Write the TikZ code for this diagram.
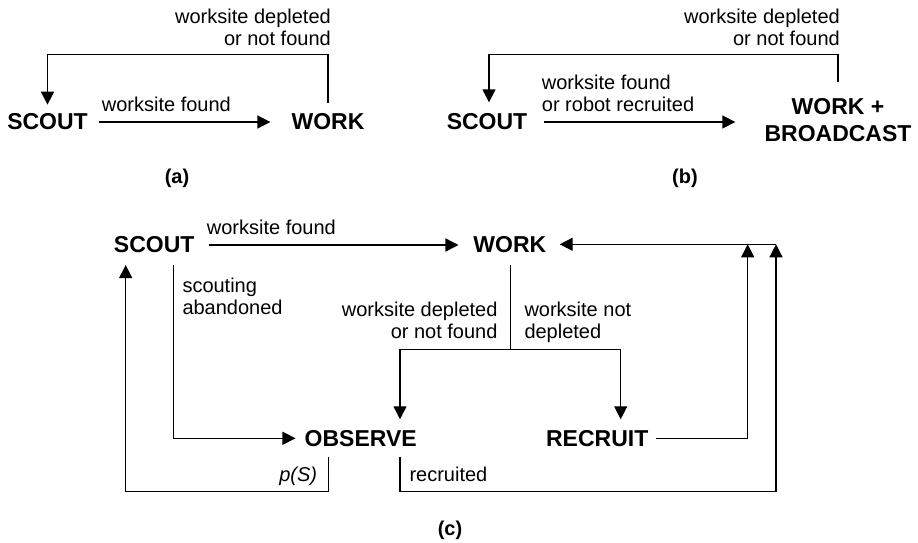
\documentclass[tikz,border=0pt]{standalone}
\usepackage{fontspec}
\setmainfont{Liberation Sans}
\usetikzlibrary{arrows.meta}

\tikzset{
    state/.style = {inner sep=0pt, font=\fontsize{23}{27}\selectfont\bfseries, align=center},
    lbl/.style = {inner sep=0pt, font=\fontsize{20}{22}\selectfont},
    sublabel/.style = {inner sep=0pt, font=\fontsize{20}{22}\selectfont\bfseries},
    arr/.style = {-{Triangle[length=13pt, width=13pt]}, line width=1.4pt},
    ln/.style = {line width=1.4pt}
}

\begin{document}
\begin{tikzpicture}[x=1pt, y=-1pt]
    \useasboundingbox (0,0) rectangle (918,543);

    % (a)
    \node (sa) [state] at (47.5,122) {SCOUT};
    \node (wa) [state] at (328,122) {WORK};
    \coordinate (ta) at (0,54.3);
    \draw [arr, shorten <=11pt, shorten >=21pt] (sa.east) -- (wa.west);
    \node (la1) [lbl, anchor=north west] at (101.7,97) {worksite found};
    \draw [arr] ([yshift=11pt]wa.north) -- (wa.north |- ta) -- (sa.north |- ta) -- ([yshift=9pt]sa.north);
    \node (la2) [lbl, anchor=north east, align=right] at (331,9.3) {worksite depleted\\or not found};
    \node (suba) [sublabel] at (177,178) {(a)};

    % (b)
    \node (sb) [state] at (487,122) {SCOUT};
    \node (wb) [state] at (838,120.5) {WORK +\\BROADCAST};
    \draw [arr, shorten <=17pt, shorten >=29pt] (sb.east) -- (sb.east -| wb.west);
    \node (lb1) [lbl, anchor=north west, align=left] at (541.7,75) {worksite found\\or robot recruited};
    \draw [arr] ([yshift=16.6pt]wb.north) -- (wb.north |- ta) -- ([xshift=2pt]sb.north |- ta) -- ([xshift=2pt, yshift=11.3pt]sb.north);
    \node (lb2) [lbl, anchor=north east, align=right] at (840,9.3) {worksite depleted\\or not found};
    \node (subb) [sublabel] at (685,178) {(b)};

    % (c)
    \node (sc) [state] at (154.2,245) {SCOUT};
    \node (wc) [state] at (509.8,245) {WORK};
    \node (oc) [state] at (360.7,438.3) {OBSERVE};
    \node (rc) [state] at (597.2,438.3) {RECRUIT};
    \coordinate (jc) at (510.7,349.3);
    \coordinate (bc) at (0,491.7);
    \coordinate (cr) at (776,244.3);
    \coordinate (cq) at (747.7,244.3);

    \draw [arr, shorten <=14pt, shorten >=14.7pt] (sc.east) -- (wc.west);
    \node (lc1) [lbl, anchor=north west] at (206.7,220) {worksite found};

    \draw [ln] ([yshift=-11.7pt]wc.south -| jc) -- (jc);
    \draw [arr] (jc) -| ([xshift=39.3pt, yshift=10.7pt]oc.north);
    \draw [arr] (jc) -| ([xshift=23.5pt, yshift=10.7pt]rc.north);
    \node (lc2) [lbl, anchor=north east, align=right] at (497.7,301.5) {worksite depleted\\or not found};
    \node (lc3) [lbl, anchor=north west, align=left] at (524.3,301.5) {worksite not\\depleted};

    \draw [arr] ([xshift=19.1pt, yshift=-11.7pt]sc.south) |- ([xshift=-9pt]oc.west);
    \node (lc4) [lbl, anchor=north west, align=left] at (182.3,278) {scouting\\abandoned};

    \draw [arr] ([xshift=-32.4pt, yshift=-10pt]oc.south) -- ([xshift=-32.4pt]oc.south |- bc) -| ([xshift=-28.5pt, yshift=-11.7pt]sc.south);
    \node (lc5) [lbl, anchor=base east, font=\fontsize{20}{22}\selectfont\itshape] at (317.3,481.7) {p(S)};

    \draw [arr] ([xshift=39.3pt, yshift=-10pt]oc.south) -- ([xshift=39.3pt]oc.south |- bc) -| (cr);
    \node (lc6) [lbl, anchor=base west] at (409.3,481.7) {recruited};

    \draw [arr] ([xshift=7.3pt]rc.east) -| (cq);
    \draw [arr, shorten >=13.3pt] (cr) -- (cr -| wc.east);
    \node (subc) [sublabel] at (450,530) {(c)};
\end{tikzpicture}
\end{document}
